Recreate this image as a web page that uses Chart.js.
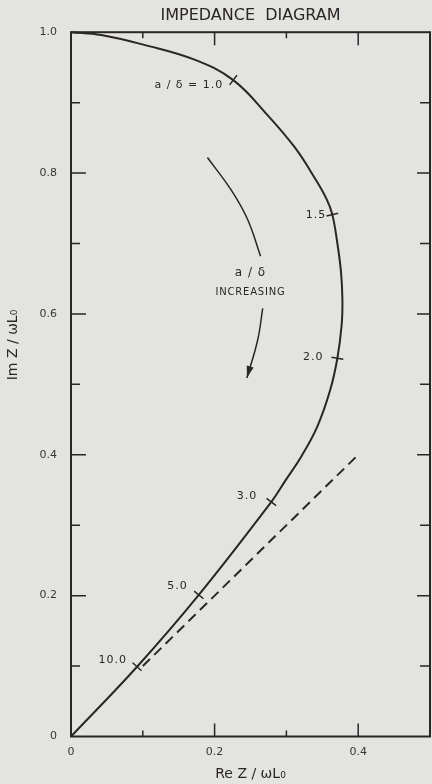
<!DOCTYPE html>
<html>
<head>
<meta charset="utf-8">
<script src="https://cdn.jsdelivr.net/npm/chart.js@4.4.1/dist/chart.umd.min.js"></script>
<style>
  html, body { margin: 0; padding: 0; background: #e3e3e1; }
  #wrap { width: 432px; height: 784px; }
</style>
</head>
<body>
<div id="wrap"><canvas id="c" width="432" height="784"></canvas></div>
<script>
// impedance locus (Re Z/wL0, Im Z/wL0)
const curveX = [0, 0.042, 0.102, 0.172, 0.226, 0.274, 0.312, 0.340, 0.356, 0.364, 0.371, 0.376, 0.378, 0.377, 0.371, 0.361, 0.343, 0.321, 0.299, 0.279, 0.178, 0.092, 0];
const curveY = [1.0, 0.996, 0.982, 0.961, 0.932, 0.882, 0.836, 0.792, 0.763, 0.741, 0.700, 0.660, 0.620, 0.585, 0.537, 0.492, 0.440, 0.398, 0.364, 0.333, 0.201, 0.099, 0];

// a/delta marks on the curve
const markX = [0.226, 0.364, 0.371, 0.279, 0.178, 0.092];
const markY = [0.932, 0.741, 0.537, 0.333, 0.201, 0.099];
const markLabels = ["a / δ = 1.0", "1.5", "2.0", "3.0", "5.0", "10.0"];

// dashed asymptote
const dashX = [0.1, 0.4];
const dashY = [0.1, 0.4];

// "a/δ increasing" arrow
const arrowUpX = [0.19, 0.223, 0.246, 0.264];
const arrowUpY = [0.822, 0.776, 0.734, 0.682];
const arrowLowX = [0.267, 0.260, 0.245];
const arrowLowY = [0.608, 0.563, 0.509];

const xTickLabels = ["0", "", "0.2", "", "0.4", ""];
const yTickLabels = ["0", "", "0.2", "", "0.4", "", "0.6", "", "0.8", "", "1.0"];

const ink = "#2b2626";
const font = "DejaVu Sans";
const pts = (xs, ys) => xs.map((x, i) => ({ x: x, y: ys[i] }));

// label offsets in px (style only)
const labelDX = [-10, -6, -14, -14, -11, -10];
const labelDY = [5, 1, -1, -6, -9, -7];

function markRotation(ctx) {
  const ch = ctx.chart;
  const sx = ch.scales.x, sy = ch.scales.y;
  const i = ctx.dataIndex;
  let j = 0, best = 1e9;
  curveX.forEach((x, k) => {
    const d = Math.abs(x - markX[i]) + Math.abs(curveY[k] - markY[i]);
    if (d < best) { best = d; j = k; }
  });
  const a = Math.max(0, j - 1), b = Math.min(curveX.length - 1, j + 1);
  const dx = sx.getPixelForValue(curveX[b]) - sx.getPixelForValue(curveX[a]);
  const dy = sy.getPixelForValue(curveY[b]) - sy.getPixelForValue(curveY[a]);
  return Math.atan2(dy, dx) * 180 / Math.PI + 90;
}

const paper = {
  id: "paper",
  beforeDraw(chart) {
    const c = chart.ctx;
    c.save();
    c.fillStyle = "#e3e3e1";
    c.fillRect(0, 0, chart.width, chart.height);
    c.restore();
  },
  afterDatasetsDraw(chart) {
    const c = chart.ctx;
    const a = chart.chartArea;
    const sx = chart.scales.x, sy = chart.scales.y;
    c.save();
    // frame
    c.strokeStyle = ink;
    c.lineWidth = 2;
    c.strokeRect(a.left, a.top, a.right - a.left, a.bottom - a.top);
    // inward ticks
    c.lineWidth = 1.5;
    sx.ticks.forEach((t, i) => {
      if (i === 0 || i === sx.ticks.length - 1) return;
      const px = sx.getPixelForValue(t.value);
      const len = i % 2 === 0 ? 13 : 6;
      c.beginPath();
      c.moveTo(px, a.bottom); c.lineTo(px, a.bottom - len);
      c.moveTo(px, a.top); c.lineTo(px, a.top + len);
      c.stroke();
    });
    sy.ticks.forEach((t, i) => {
      if (i === 0 || i === sy.ticks.length - 1) return;
      const py = sy.getPixelForValue(t.value);
      const len = i % 2 === 0 ? 15 : 9;
      c.beginPath();
      c.moveTo(a.left, py); c.lineTo(a.left + len, py);
      c.moveTo(a.right, py); c.lineTo(a.right - (i % 2 === 0 ? 13 : 10), py);
      c.stroke();
    });
    // arrowhead
    const n = arrowLowX.length;
    const x1 = sx.getPixelForValue(arrowLowX[n - 2]), y1 = sy.getPixelForValue(arrowLowY[n - 2]);
    const x2 = sx.getPixelForValue(arrowLowX[n - 1]), y2 = sy.getPixelForValue(arrowLowY[n - 1]);
    const ang = Math.atan2(y2 - y1, x2 - x1);
    c.fillStyle = ink;
    c.beginPath();
    c.moveTo(x2, y2);
    c.lineTo(x2 - 12 * Math.cos(ang) + 3.5 * Math.sin(ang), y2 - 12 * Math.sin(ang) - 3.5 * Math.cos(ang));
    c.lineTo(x2 - 12 * Math.cos(ang) - 3.5 * Math.sin(ang), y2 - 12 * Math.sin(ang) + 3.5 * Math.cos(ang));
    c.closePath();
    c.fill();
    // mark labels
    c.fillStyle = ink;
    c.font = "11px '" + font + "'";
    c.letterSpacing = "1px";
    c.textAlign = "right";
    c.textBaseline = "middle";
    markLabels.forEach((lab, i) => {
      c.fillText(lab, sx.getPixelForValue(markX[i]) + labelDX[i], sy.getPixelForValue(markY[i]) + labelDY[i]);
    });
    // annotation
    c.textAlign = "center";
    c.font = "12px '" + font + "'";
    c.fillText("a / δ", sx.getPixelForValue(0.25), sy.getPixelForValue(0.658));
    c.font = "10px '" + font + "'";
    c.letterSpacing = "0.8px";
    c.fillText("INCREASING", sx.getPixelForValue(0.25), sy.getPixelForValue(0.630));
    // y axis title
    c.letterSpacing = "0px";
    c.font = "14px '" + font + "'";
    c.translate(13, 345);
    c.rotate(-Math.PI / 2);
    c.fillText("Im Z / ωL₀", 0, 0);
    c.restore();
  }
};

new Chart(document.getElementById("c"), {
  type: "scatter",
  data: {
    datasets: [
      {
        label: "locus",
        data: pts(curveX, curveY),
        showLine: true,
        borderColor: ink,
        borderWidth: 2,
        pointRadius: 0,
        tension: 0.4,
        clip: false
      },
      {
        label: "asymptote",
        data: pts(dashX, dashY),
        showLine: true,
        borderColor: ink,
        borderWidth: 2,
        borderDash: [10, 6],
        pointRadius: 0
      },
      {
        label: "marks",
        data: pts(markX, markY),
        showLine: false,
        pointStyle: "line",
        pointRadius: 6,
        pointBorderWidth: 1.5,
        pointBorderColor: ink,
        pointRotation: markRotation
      },
      {
        label: "arrowUp",
        data: pts(arrowUpX, arrowUpY),
        showLine: true,
        borderColor: ink,
        borderWidth: 1.5,
        pointRadius: 0,
        tension: 0.4
      },
      {
        label: "arrowLow",
        data: pts(arrowLowX, arrowLowY),
        showLine: true,
        borderColor: ink,
        borderWidth: 1.5,
        pointRadius: 0,
        tension: 0.4
      }
    ]
  },
  options: {
    responsive: false,
    animation: false,
    layout: { autoPadding: false, padding: { right: 2, left: 0, top: 0, bottom: 0 } },
    plugins: {
      legend: { display: false },
      tooltip: { enabled: false },
      title: {
        display: true,
        text: "IMPEDANCE  DIAGRAM",
        fullSize: false,
        color: ink,
        font: { family: font, size: 16, weight: "normal" },
        padding: { top: 6, bottom: 7 }
      }
    },
    scales: {
      x: {
        type: "linear",
        min: 0,
        max: 0.5,
        grid: { display: false, drawTicks: false },
        border: { display: false },
        ticks: {
          stepSize: 0.1,
          padding: 9,
          maxRotation: 0,
          autoSkip: false,
          color: "#3a3535",
          font: { family: font, size: 11 },
          callback: (v, i) => xTickLabels[i]
        },
        title: {
          display: true,
          text: "Re Z / ωL₀",
          color: ink,
          font: { family: font, size: 14 },
          padding: { top: 0, bottom: 1 }
        },
        afterFit: (s) => { s.height = 47.5; s.paddingRight = 0; s.paddingLeft = 0; }
      },
      y: {
        type: "linear",
        min: 0,
        max: 1,
        grid: { display: false, drawTicks: false },
        border: { display: false },
        ticks: {
          stepSize: 0.1,
          padding: 14,
          autoSkip: false,
          color: "#3a3535",
          font: { family: font, size: 11 },
          callback: (v, i) => yTickLabels[i]
        },
        afterFit: (s) => { s.width = 71; s.paddingTop = 0; s.paddingBottom = 0; }
      }
    }
  },
  plugins: [paper]
});
</script>
</body>
</html>
